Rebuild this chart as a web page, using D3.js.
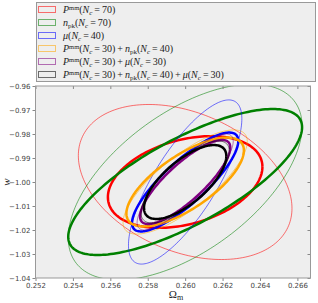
<!DOCTYPE html>
<html>
<head>
<meta charset="utf-8">
<script src="https://cdn.jsdelivr.net/npm/d3@7"></script>
<style>
  body { margin: 0; background: #fff; }
  svg { display: block; }
  .tick text { font-family: "DejaVu Sans", sans-serif; font-size: 7px; fill: #444; }
  .math { font-family: "Liberation Serif", serif; fill: #222; }
</style>
</head>
<body>
<div id="chart"></div>
<script>
// Daten: Fisher-Ellipsen um den Fiducial-Punkt
const colors = ["red", "green", "blue", "orange", "purple", "black"];
const fiducial = [0.260, -1.000];

// dicke Konturen: halbe Ausdehnung in Omega_m, in w, Korrelation
const thickOm = [0.00413, 0.00625, 0.00284, 0.00314, 0.00241, 0.00220];
const thickW = [0.0191, 0.0304, 0.0206, 0.0185, 0.0175, 0.0154];
const thickRho = [0.33, 0.75, 0.83, 0.71, 0.82, 0.70];

// dünne Konturen
const thinOm = [0.00571, 0.00625, 0.00303, 0.00332, 0.00257, 0.00236];
const thinW = [0.0323, 0.0408, 0.0342, 0.0217, 0.0200, 0.0171];
const thinRho = [-0.34, 0.57, 0.77, 0.78, 0.85, 0.75];

const xTicks = [0.252, 0.254, 0.256, 0.258, 0.260, 0.262, 0.264, 0.266];
const yTicks = [-1.04, -1.03, -1.02, -1.01, -1.00, -0.99, -0.98, -0.97, -0.96];

// Legendentexte als Stücke: [text, stil]
const labels = [
  [["P","i"],["mm","sup"],["(",""],["N","i"],["c","subi"],["\u2009=\u200970)",""]],
  [["n","i"],["pk","sub"],["(",""],["N","i"],["c","subi"],["\u2009=\u200970)",""]],
  [["μ","i"],["(",""],["N","i"],["c","subi"],["\u2009=\u200940)",""]],
  [["P","i"],["mm","sup"],["(",""],["N","i"],["c","subi"],["\u2009=\u200930)\u2009+\u2009",""],["n","i"],["pk","sub"],["(",""],["N","i"],["c","subi"],["\u2009=\u200940)",""]],
  [["P","i"],["mm","sup"],["(",""],["N","i"],["c","subi"],["\u2009=\u200930)\u2009+\u2009",""],["μ","i"],["(",""],["N","i"],["c","subi"],["\u2009=\u200930)",""]],
  [["P","i"],["mm","sup"],["(",""],["N","i"],["c","subi"],["\u2009=\u200930)\u2009+\u2009",""],["n","i"],["pk","sub"],["(",""],["N","i"],["c","subi"],["\u2009=\u200940)\u2009+\u2009",""],["μ","i"],["(",""],["N","i"],["c","subi"],["\u2009=\u200930)",""]]
];

const width = 318, height = 303;
const pLeft = 35.5, pRight = 310.5, pTop = 86, pBottom = 278;

const svg = d3.select("#chart").append("svg")
  .attr("width", width)
  .attr("height", height);

const x = d3.scaleLinear().domain([0.252, 0.2667]).range([pLeft, pRight]);
const y = d3.scaleLinear().domain([-1.04, -0.96]).range([pBottom, pTop]);

svg.append("rect")
  .attr("x", pLeft).attr("y", pTop)
  .attr("width", pRight - pLeft).attr("height", pBottom - pTop)
  .attr("fill", "#eeeeee");

svg.append("clipPath").attr("id", "clip")
  .append("rect")
  .attr("x", pLeft).attr("y", pTop)
  .attr("width", pRight - pLeft).attr("height", pBottom - pTop);

// Ellipse als Punktliste
function ellipse(a, b, rho) {
  const pts = [];
  for (let i = 0; i <= 200; i++) {
    const t = i / 200 * 2 * Math.PI;
    pts.push([
      fiducial[0] + a * Math.cos(t),
      fiducial[1] + b * (rho * Math.cos(t) + Math.sqrt(1 - rho * rho) * Math.sin(t))
    ]);
  }
  return pts;
}

const line = d3.line().x(d => x(d[0])).y(d => y(d[1]));
const g = svg.append("g").attr("clip-path", "url(#clip)");

colors.forEach((c, i) => {
  g.append("path")
    .attr("d", line(ellipse(thinOm[i], thinW[i], thinRho[i])))
    .attr("fill", "none")
    .attr("stroke", c)
    .attr("stroke-opacity", 0.55)
    .attr("stroke-width", 1);
  g.append("path")
    .attr("d", line(ellipse(thickOm[i], thickW[i], thickRho[i])))
    .attr("fill", "none")
    .attr("stroke", c)
    .attr("stroke-width", 2.5);
});

// Achsen
const fmt = d => d3.format(".3f")(d);
svg.append("g")
  .attr("transform", `translate(0,${pBottom})`)
  .call(d3.axisBottom(x).tickValues(xTicks).tickFormat(fmt).tickSize(3).tickPadding(2));
svg.append("g")
  .attr("transform", `translate(${pLeft},0)`)
  .call(d3.axisLeft(y).tickValues(yTicks).tickFormat(d => d3.format(".2f")(d).replace("-", "−")).tickSize(3).tickPadding(2));
svg.append("g")
  .attr("transform", `translate(0,${pTop})`)
  .call(d3.axisBottom(x).tickValues(xTicks).tickFormat("").tickSize(3));
svg.append("g")
  .attr("transform", `translate(${pRight},0)`)
  .call(d3.axisLeft(y).tickValues(yTicks).tickFormat("").tickSize(3));

svg.selectAll(".domain").remove();
svg.selectAll(".tick line").attr("stroke", "#888");

svg.append("rect")
  .attr("x", pLeft).attr("y", pTop)
  .attr("width", pRight - pLeft).attr("height", pBottom - pTop)
  .attr("fill", "none")
  .attr("stroke", "#999")
  .attr("stroke-width", 1);

// Achsenbeschriftung
const xl = svg.append("text").attr("class", "math")
  .attr("x", 176).attr("y", 298)
  .attr("text-anchor", "middle")
  .attr("font-size", 11);
xl.append("tspan").text("Ω");
xl.append("tspan").attr("dy", 2).attr("font-size", 8).text("m");

svg.append("text").attr("class", "math")
  .attr("transform", "translate(10,182) rotate(-90)")
  .attr("text-anchor", "middle")
  .attr("font-size", 11)
  .attr("font-style", "italic")
  .text("w");

// Legende
const lg = svg.append("g");
lg.append("rect")
  .attr("x", 36.5).attr("y", 2.5)
  .attr("width", 279).attr("height", 79)
  .attr("fill", "#eeeeee")
  .attr("stroke", "#999")
  .attr("stroke-width", 1);

labels.forEach((parts, i) => {
  const cy = 9.5 + i * 13;
  lg.append("rect")
    .attr("x", 38.5).attr("y", cy - 3)
    .attr("width", 17).attr("height", 6)
    .attr("fill", "none")
    .attr("stroke", colors[i])
    .attr("stroke-opacity", 0.55)
    .attr("stroke-width", 1);
  const t = lg.append("text").attr("class", "math")
    .attr("x", 63).attr("y", cy + 3.5)
    .attr("font-size", 10);
  let shift = 0;
  parts.forEach(([s, st]) => {
    const ts = t.append("tspan").text(s);
    let target = 0;
    if (st === "sup") { target = -3.5; ts.attr("font-size", 6.5); }
    if (st === "sub" || st === "subi") { target = 2; ts.attr("font-size", 7); }
    if (st === "i" || st === "subi") ts.attr("font-style", "italic");
    ts.attr("dy", target - shift);
    shift = target;
  });
});
</script>
</body>
</html>
